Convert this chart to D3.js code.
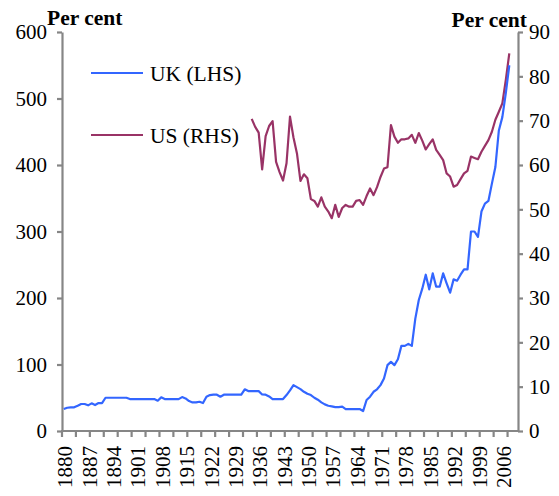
<!DOCTYPE html>
<html>
<head>
<meta charset="utf-8">
<script src="https://cdn.jsdelivr.net/npm/d3@7"></script>
<style>
  body { margin: 0; background: #fff; }
  text { font-family: "Liberation Serif", "Times New Roman", serif; fill: #000; }
</style>
</head>
<body>
<div id="chart"></div>
<script>
// categories: one per year, axis runs 1880 to 2010
var years = d3.range(1880, 2011)
var labelYears = d3.range(1880, 2007, 7)
var leftTicks = [0, 100, 200, 300, 400, 500, 600]
var rightTicks = [0, 10, 20, 30, 40, 50, 60, 70, 80, 90]

// UK (LHS), 1880 - 2008
var ukStart = 1880
var ukValues = [
  33, 35, 35.6, 35.6, 38, 40.6, 40.6, 38.6, 41.6, 39,          // 1880s
  42, 42, 50, 50, 50, 50, 50, 50, 50, 48,                      // 1890s
  48, 48, 48, 48, 48, 48, 48, 45.6, 50.6, 48,                  // 1900s
  48, 48, 48, 48, 51, 49, 45, 43, 43, 44,                      // 1910s
  42, 51.6, 54, 54.6, 54.6, 51.6, 54.6, 54.6, 54.6, 54.6,      // 1920s
  54.6, 54.6, 62.7, 60, 60, 60, 60, 55, 54.6, 52,              // 1930s
  48, 48, 48, 48, 54, 61, 69, 66, 63, 59,                      // 1940s
  56, 54, 50, 47, 43, 40, 38, 37, 36, 36,                      // 1950s
  36.6, 33, 33, 33, 33, 33, 30, 46.6, 51.6, 59,                // 1960s
  62.7, 69, 79, 99, 104, 99, 108, 128, 128, 131,               // 1970s
  128, 169, 197, 214, 235, 213, 237, 217, 217, 237,            // 1980s
  222, 208, 228, 226, 235, 243, 243, 300, 300, 292,            // 1990s
  330, 342, 346, 372, 397, 452, 472, 508, 550                  // 2000s
]

// US (RHS), 1934 - 2008
var usStart = 1934
var usValues = [
  70.4, 68.6, 67.3, 59, 66.5, 68.8,                            // 1934-39
  69.9, 60.7, 58.4, 56.5, 60.4, 70.9, 66.2, 62.6, 56.4, 57.9,  // 1940s
  57, 52.3, 51.9, 50.6, 52.7, 50.6, 49.5, 48, 51, 48.3,        // 1950s
  50.3, 51, 50.6, 50.6, 51.9, 52.1, 51, 53, 54.7, 53.2,        // 1960s
  55, 57.3, 59.2, 59.5, 69, 66.4, 65, 65.8, 65.8, 66,          // 1970s
  66.8, 65, 67.2, 65.5, 63.5, 64.7, 65.8, 63.4, 62.3, 61.1,    // 1980s
  58.1, 57.4, 55.1, 55.5, 56.8, 58.1, 58.7, 61.9, 61.6, 61.3,  // 1990s
  63, 64.3, 65.6, 67.5, 70.2, 72, 73.9, 79.2, 85.2             // 2000s
]

var ukData = ukValues.map(function (v, i) { return { year: ukStart + i, value: v } })
var usData = usValues.map(function (v, i) { return { year: usStart + i, value: v } })

var width = 559
var height = 496
// plot box (note: "top" is a reserved window property, so use other names)
var plotLeft = 62, plotRight = 518, plotTop = 32, plotBottom = 431
var axisColor = "#868686"

var svg = d3.select("#chart")
  .append("svg")
  .attr("width", width)
  .attr("height", height)

var x = d3.scaleBand()
  .domain(years)
  .range([plotLeft, plotRight])
  .padding(0)

var yLeft = d3.scaleLinear().domain([0, 600]).range([plotBottom, plotTop])
var yRight = d3.scaleLinear().domain([0, 90]).range([plotBottom, plotTop])

function cx(year) { return x(year) + x.bandwidth() / 2 }

// left axis
var gLeft = svg.append("g")
  .attr("transform", "translate(" + plotLeft + ",0)")
  .call(d3.axisLeft(yLeft).tickValues(leftTicks).tickSize(5).tickSizeOuter(0).tickPadding(10))
// right axis
var gRight = svg.append("g")
  .attr("transform", "translate(" + plotRight + ",0)")
  .call(d3.axisRight(yRight).tickValues(rightTicks).tickSize(5).tickSizeOuter(0).tickPadding(6))

;[gLeft, gRight].forEach(function (g) {
  g.select(".domain").attr("stroke", axisColor).attr("stroke-width", 2.2)
  g.selectAll(".tick line").attr("stroke", axisColor).attr("stroke-width", 2.2)
  g.selectAll(".tick text")
    .style("font-family", '"Liberation Serif", serif')
    .style("font-size", "21px")
    .attr("fill", "#000")
})

// bottom axis line and tick marks (every 4 categories)
var gBottom = svg.append("g")
gBottom.append("line")
  .attr("x1", plotLeft - 1).attr("x2", plotRight + 1)
  .attr("y1", plotBottom).attr("y2", plotBottom)
  .attr("stroke", axisColor).attr("stroke-width", 2.2)

gBottom.selectAll("line.xtick")
  .data(years.filter(function (d, i) { return i % 4 === 0 }))
  .enter()
  .append("line")
  .attr("class", "xtick")
  .attr("x1", function (d) { return x(d) })
  .attr("x2", function (d) { return x(d) })
  .attr("y1", plotBottom)
  .attr("y2", plotBottom + 6)
  .attr("stroke", axisColor)
  .attr("stroke-width", 2.2)

// year labels, every 7 years, rotated
gBottom.selectAll("text.xlabel")
  .data(labelYears)
  .enter()
  .append("text")
  .attr("class", "xlabel")
  .attr("transform", function (d) { return "translate(" + (cx(d) + 1) + "," + (plotBottom + 15) + ") rotate(-90)" })
  .attr("text-anchor", "end")
  .attr("dy", "0.36em")
  .style("font-size", "21px")
  .text(function (d) { return d })

// lines
var ukLine = d3.line()
  .x(function (d) { return cx(d.year) })
  .y(function (d) { return yLeft(d.value) })

var usLine = d3.line()
  .x(function (d) { return cx(d.year) })
  .y(function (d) { return yRight(d.value) })

svg.append("path")
  .datum(usData)
  .attr("fill", "none")
  .attr("stroke", "#993366")
  .attr("stroke-width", 2.2)
  .attr("stroke-linejoin", "round")
  .attr("d", usLine)

svg.append("path")
  .datum(ukData)
  .attr("fill", "none")
  .attr("stroke", "#3366ff")
  .attr("stroke-width", 2.2)
  .attr("stroke-linejoin", "round")
  .attr("d", ukLine)

// axis titles
svg.append("text")
  .attr("x", 47).attr("y", 25)
  .style("font-size", "21.5px").style("font-weight", "bold")
  .text("Per cent")

svg.append("text")
  .attr("x", 527).attr("y", 27)
  .attr("text-anchor", "end")
  .style("font-size", "21.5px").style("font-weight", "bold")
  .text("Per cent")

// legend
var legend = [
  { name: "UK (LHS)", color: "#3366ff", y: 73 },
  { name: "US (RHS)", color: "#993366", y: 135 }
]
var lg = svg.selectAll("g.legend")
  .data(legend)
  .enter()
  .append("g")
  .attr("class", "legend")

lg.append("line")
  .attr("x1", 91).attr("x2", 143)
  .attr("y1", function (d) { return d.y })
  .attr("y2", function (d) { return d.y })
  .attr("stroke", function (d) { return d.color })
  .attr("stroke-width", 2.2)

lg.append("text")
  .attr("x", 150)
  .attr("y", function (d) { return d.y + 8 })
  .style("font-size", "21.5px")
  .text(function (d) { return d.name })
</script>
</body>
</html>
